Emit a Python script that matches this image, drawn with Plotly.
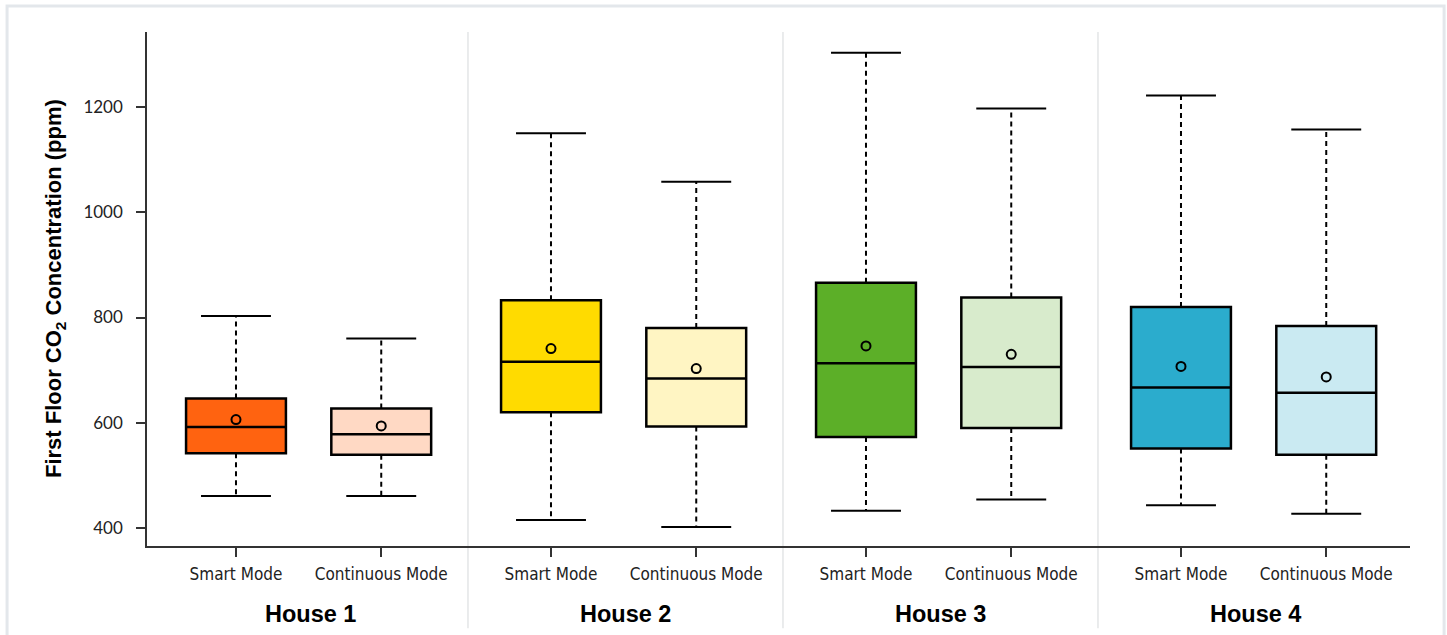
import plotly.graph_objects as go

# ---- data -------------------------------------------------------------
houses = ["House 1", "House 2", "House 3", "House 4"]
modes = ["Smart Mode", "Continuous Mode"]

# one entry per box, ordered House 1 Smart, House 1 Continuous, House 2 Smart, ...
lower_whisker = [461, 461, 415, 402, 433, 454, 443, 427]
q1 = [542, 539, 620, 593, 573, 590, 551, 539]
median = [592, 578, 716, 684, 713, 706, 667, 657]
q3 = [646, 627, 833, 780, 866, 838, 820, 784]
upper_whisker = [803, 760, 1150, 1058, 1303, 1197, 1222, 1157]
mean = [606, 594, 741, 703, 746, 730, 707, 687]

fill_colors = ["#FF6310", "#FFD9C4",
               "#FFDB00", "#FFF5C3",
               "#5CAF28", "#D8EBCC",
               "#2BACCD", "#CAEAF2"]

y_ticks = [400, 600, 800, 1000, 1200]

# ---- layout constants ---------------------------------------------------
mode_offset = [0.2635, 0.7246]   # position of each mode inside a house slot
box_width = 0.317
cap_half = 0.111

narrow_font = "'DejaVu Sans Condensed', Roboto, sans-serif"

positions = []
tick_text = []
for h in range(len(houses)):
    for m in range(len(modes)):
        positions.append(h + mode_offset[m])
        tick_text.append(modes[m])

fig = go.Figure()

for i, p in enumerate(positions):
    # dashed whiskers
    fig.add_trace(go.Scatter(
        x=[p, p, None, p, p],
        y=[q3[i], upper_whisker[i], None, q1[i], lower_whisker[i]],
        mode="lines", line=dict(color="black", width=2, dash="5px,4px"),
        hoverinfo="skip", showlegend=False))
    # whisker caps
    fig.add_trace(go.Scatter(
        x=[p - cap_half, p + cap_half, None, p - cap_half, p + cap_half],
        y=[upper_whisker[i], upper_whisker[i], None, lower_whisker[i], lower_whisker[i]],
        mode="lines", line=dict(color="black", width=2),
        hoverinfo="skip", showlegend=False))
    # box with median
    fig.add_trace(go.Box(
        x=[p], q1=[q1[i]], median=[median[i]], q3=[q3[i]],
        lowerfence=[q1[i]], upperfence=[q3[i]],
        width=box_width, whiskerwidth=0,
        fillcolor=fill_colors[i], line=dict(color="black", width=2.5),
        boxpoints=False, showlegend=False))

# means
fig.add_trace(go.Scatter(
    x=positions, y=mean, mode="markers",
    marker=dict(symbol="circle-open", size=9, color="black", line=dict(width=2)),
    hoverinfo="skip", showlegend=False))

# separators between houses
shapes = []
for h in range(1, len(houses)):
    shapes.append(dict(type="line", xref="x", yref="paper", x0=h, x1=h,
                       y0=-0.16, y1=1, line=dict(color="#d5d8db", width=1),
                       layer="below"))
# outer frame
shapes.append(dict(type="rect", xref="paper", yref="paper",
                   x0=-0.1108, x1=1.027, y0=-0.2, y1=1.0506,
                   line=dict(color="#e3e7eb", width=3), layer="below"))

annotations = []
for h, name in enumerate(houses):
    annotations.append(dict(
        x=h + 0.5, xref="x", y=-0.1323, yref="paper",
        text="<b>%s</b>" % name, showarrow=False,
        xanchor="center", yanchor="middle",
        font=dict(family="Liberation Sans", size=23.5, color="black")))
annotations.append(dict(
    x=-0.0728, xref="paper", y=0.5, yref="paper",
    text="<b>First Floor CO<sub>2</sub> Concentration (ppm)</b>",
    textangle=-90, showarrow=False, xanchor="center", yanchor="middle",
    font=dict(family="Liberation Sans", size=22, color="black")))

fig.update_layout(
    width=1447, height=635, autosize=False,
    margin=dict(l=147, r=37, t=32, b=89, pad=0),
    plot_bgcolor="white", paper_bgcolor="white",
    boxmode="overlay",
    shapes=shapes, annotations=annotations,
    xaxis=dict(range=[-0.019, 3.9905], tickvals=positions, ticktext=tick_text,
               ticks="outside", ticklen=9, tickwidth=1.5, tickcolor="#333",
               showline=True, linecolor="#333", linewidth=1.5,
               showgrid=False, zeroline=False, ticklabelstandoff=3,
               tickfont=dict(family=narrow_font, size=17, color="#222")),
    yaxis=dict(range=[365.8, 1342.5], tickvals=y_ticks,
               ticks="outside", ticklen=9, tickwidth=1.5, tickcolor="#333",
               showline=True, linecolor="#333", linewidth=1.5,
               showgrid=False, zeroline=False, ticklabelstandoff=10,
               tickfont=dict(family="Lato", size=17, color="#222")),
)

fig.write_html("out.html")
